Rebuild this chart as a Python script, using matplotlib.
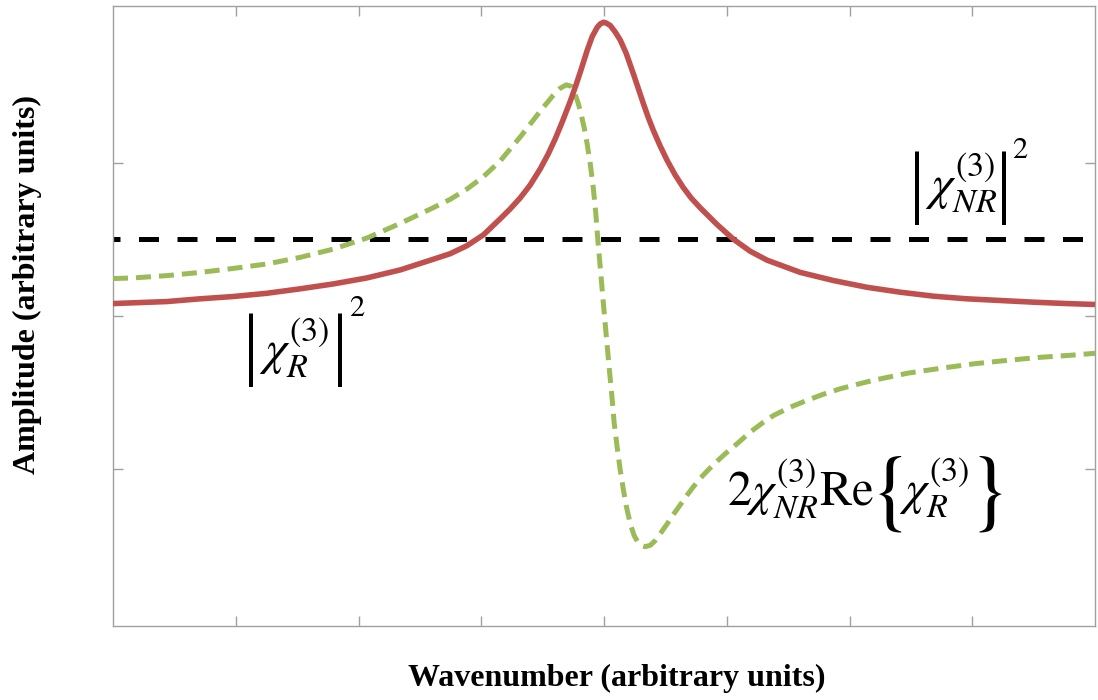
import matplotlib
matplotlib.use("Agg")
import matplotlib.pyplot as plt

# ---- data (arbitrary units) ----
red_x = [0.000, 0.165, 0.438, 0.709, 0.980, 1.253, 1.524, 1.795, 2.068, 2.339,
         2.610, 2.747, 2.883, 3.018, 3.154, 3.236, 3.317, 3.399, 3.480, 3.545,
         3.602, 3.659, 3.725, 3.774, 3.814, 3.863, 3.904, 3.944, 3.969, 3.996,
         4.018, 4.051, 4.091, 4.132, 4.181, 4.238, 4.279, 4.320, 4.360, 4.401,
         4.458, 4.515, 4.580, 4.645, 4.710, 4.784, 4.920, 5.055, 5.191, 5.328,
         5.599, 5.870, 6.143, 6.414, 6.686, 6.957, 7.229, 7.501, 7.772, 8.000]
red_y = [0.081, 0.086, 0.094, 0.112, 0.127, 0.148, 0.177, 0.209, 0.248, 0.300,
         0.370, 0.406, 0.458, 0.529, 0.633, 0.698, 0.769, 0.854, 0.958, 1.055,
         1.153, 1.263, 1.399, 1.510, 1.607, 1.731, 1.821, 1.880, 1.903, 1.914,
         1.909, 1.893, 1.851, 1.799, 1.711, 1.581, 1.484, 1.386, 1.295, 1.211,
         1.107, 1.013, 0.919, 0.838, 0.769, 0.705, 0.597, 0.500, 0.422, 0.364,
         0.284, 0.231, 0.187, 0.155, 0.129, 0.112, 0.101, 0.090, 0.081, 0.075]

green_x = [0.000, 0.165, 0.438, 0.709, 0.980, 1.253, 1.524, 1.795, 2.068, 2.339,
           2.610, 2.747, 2.885, 3.015, 3.154, 3.317, 3.480, 3.586, 3.643, 3.692,
           3.733, 3.765, 3.790, 3.814, 3.839, 3.863, 3.887, 3.912, 3.932, 3.949,
           3.969, 3.985, 4.004, 4.022, 4.042, 4.063, 4.083, 4.108, 4.132, 4.157,
           4.181, 4.214, 4.246, 4.279, 4.311, 4.336, 4.377, 4.417, 4.458, 4.515,
           4.564, 4.621, 4.678, 4.727, 4.784, 4.849, 4.923, 5.004, 5.086, 5.192,
           5.289, 5.379, 5.518, 5.656, 5.786, 5.925, 6.064, 6.194, 6.333, 6.471,
           6.740, 7.009, 7.286, 7.555, 7.800, 8.000]
green_y = [0.244, 0.248, 0.263, 0.284, 0.310, 0.339, 0.382, 0.436, 0.508, 0.603,
           0.706, 0.760, 0.828, 0.906, 1.010, 1.166, 1.334, 1.438, 1.484, 1.506,
           1.497, 1.445, 1.386, 1.315, 1.224, 1.120, 0.997, 0.841, 0.679, 0.503,
           0.321, 0.172, 0.000, -0.159, -0.334, -0.510, -0.698, -0.860, -1.003, -1.127,
           -1.237, -1.354, -1.432, -1.477, -1.497, -1.503, -1.494, -1.464, -1.419, -1.354,
           -1.295, -1.231, -1.166, -1.114, -1.058, -1.003, -0.945, -0.886, -0.831, -0.756,
           -0.698, -0.649, -0.594, -0.549, -0.510, -0.474, -0.445, -0.419, -0.396, -0.373,
           -0.341, -0.312, -0.289, -0.269, -0.256, -0.243]

nr_level = 0.5
x_range = [0.0, 8.0]

x_ticks = [1, 2, 3, 4, 5, 6, 7]
y_ticks = [-1, 0, 1]

xlabel = 'Wavenumber (arbitrary units)'
ylabel = 'Amplitude (arbitrary units)'

# ---- figure ----
plt.rcParams['mathtext.fontset'] = 'stix'
W, H = 1098, 700
fig = plt.figure(figsize=(W / 100, H / 100), dpi=100)
ax = fig.add_axes([113 / W, 1 - 626 / H, (1095 - 113) / W, (626 - 6) / H])

red_c = '#C0504D'
green_c = '#9BBB59'

ax.plot(x_range, [nr_level, nr_level], color='black', lw=3.6,
        linestyle=(2.6, (4.0, 3.7)), dash_capstyle='butt', zorder=2)
ax.plot(green_x, green_y, color=green_c, lw=3.6, linestyle=(0, (3.0, 1.6)),
        dash_capstyle='butt', solid_joinstyle='round', zorder=3)
ax.plot(red_x, red_y, color=red_c, lw=4.0, solid_capstyle='butt',
        solid_joinstyle='round', zorder=4)

ax.set_xlim(0, 8)
ax.set_ylim(-2.02, 2.02)
ax.set_xticks(x_ticks)
ax.set_yticks(y_ticks)
ax.set_xticklabels([])
ax.set_yticklabels([])
ax.tick_params(direction='in', length=7.2, width=1.0, color='#A0A0A0',
               top=True, right=True)
for s in ax.spines.values():
    s.set_color('#A0A0A0')
    s.set_linewidth(1.0)

serif = ['Liberation Serif', 'DejaVu Serif']
fig.text(617 / W, 1 - 678 / H, xlabel, family=serif, fontweight='bold',
         fontsize=23, ha='center', va='center')
fig.text(27 / W, 1 - 285 / H, ylabel, family=serif, fontweight='bold',
         fontsize=23, ha='center', va='center', rotation=90)


def put(px, py, s, size, ha='center', va='center', **kw):
    fig.text(px / W, 1 - py / H, s, fontsize=size, ha=ha, va=va, **kw)


BAR = 58    # size of the tall bars
BRACE = 64  # size of the tall braces
CORE = 35   # size of the chi terms
EXP = 22    # size of the outer exponent

# |chi_NR^(3)|^2
put(917, 188, '|', BAR, family=serif)
put(925, 183, r'$\chi_{NR}^{(3)}$', CORE, ha='left')
put(1004, 188, '|', BAR, family=serif)
put(1020, 149, r'$2$', EXP)

# |chi_R^(3)|^2
put(251, 350, '|', BAR, family=serif)
put(259, 348, r'$\chi_{R}^{(3)}$', CORE, ha='left')
put(340, 350, '|', BAR, family=serif)
put(357, 308, r'$2$', EXP)

# 2 chi_NR^(3) Re{chi_R^(3)}
put(727, 489, r'$2\chi_{NR}^{(3)}\mathrm{Re}$', CORE, ha='left')
put(886, 492, r'$\{$', BRACE)
put(899, 488, r'$\chi_{R}^{(3)}$', CORE, ha='left')
put(985, 492, r'$\}$', BRACE)

fig.savefig('out.png', dpi=100)
